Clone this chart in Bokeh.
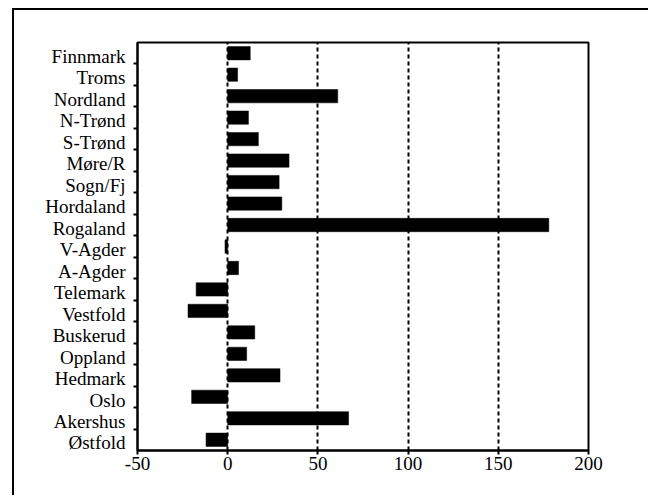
from bokeh.plotting import figure
from bokeh.models import FixedTicker, ColumnDataSource, Range1d
from bokeh.embed import file_html
from bokeh.resources import INLINE

counties = ["Finnmark", "Troms", "Nordland", "N-Trønd", "S-Trønd", "Møre/R",
            "Sogn/Fj", "Hordaland", "Rogaland", "V-Agder", "A-Agder", "Telemark",
            "Vestfold", "Buskerud", "Oppland", "Hedmark", "Oslo", "Akershus", "Østfold"]
values = [12.5, 5.5, 61, 11.5, 17, 34, 28.5, 30, 178, -1.5, 6, -17.5,
          -22, 15, 10.5, 29, -20, 67, -12]
x_ticks = [-50, 0, 50, 100, 150, 200]
x_tick_labels = ["-50", "0", "50", "100", "150", "200"]
grid_ticks = [0, 50, 100, 150]

n = len(counties)
ypos = [n - 0.5 - i for i in range(n)]
label_pos = [y - 0.15 for y in ypos]
bounds = [float(i) for i in range(1, n)]

src = ColumnDataSource(dict(y=ypos, v=values, name=counties))

FONT = "Liberation Serif"

p = figure(width=636, height=487, output_backend="svg", toolbar_location=None,
           x_range=Range1d(-50, 200), y_range=Range1d(0, n),
           min_border_left=123, min_border_top=32, min_border_right=62,
           min_border_bottom=47)
p.margin = (8, 0, 0, 12)
p.styles = {"border-left": "2px solid black", "border-top": "2px solid black"}

p.hbar(y="y", left=0, right="v", height=0.62, source=src,
       fill_color="black", line_color="black", line_width=0.5)

p.outline_line_color = "black"
p.outline_line_width = 2
p.outline_line_alpha = 1

# x axis
p.xaxis.ticker = FixedTicker(ticks=x_ticks, minor_ticks=[])
p.xaxis.major_label_overrides = {t: s for t, s in zip(x_ticks, x_tick_labels)}
p.xaxis.major_tick_out = 4
p.xaxis.major_tick_in = 0
p.xaxis.minor_tick_out = 0
p.xaxis.minor_tick_in = 0
p.xaxis.axis_line_width = 2
p.xaxis.major_tick_line_width = 2
p.xaxis.major_label_text_font = FONT
p.xaxis.major_label_text_font_size = "19px"
p.xaxis.major_label_text_color = "black"
p.xaxis.major_label_standoff = 2

# y axis
p.yaxis.ticker = FixedTicker(ticks=label_pos, minor_ticks=bounds)
p.yaxis.major_label_overrides = {y: c for y, c in zip(label_pos, counties)}
p.yaxis.major_tick_out = 0
p.yaxis.major_tick_in = 0
p.yaxis.minor_tick_out = 4
p.yaxis.minor_tick_in = 0
p.yaxis.minor_tick_line_width = 2
p.yaxis.minor_tick_line_color = "black"
p.yaxis.axis_line_width = 2
p.yaxis.major_label_text_font = FONT
p.yaxis.major_label_text_font_size = "19px"
p.yaxis.major_label_text_color = "black"
p.yaxis.major_label_standoff = 8

# grids
p.xgrid.ticker = FixedTicker(ticks=grid_ticks)
p.xgrid.grid_line_color = "black"
p.xgrid.grid_line_dash = "4 3"
p.xgrid.grid_line_width = 2
p.ygrid.grid_line_color = None

p.background_fill_color = "white"
p.border_fill_color = "white"

open("out.html", "w").write(file_html(p, INLINE))
